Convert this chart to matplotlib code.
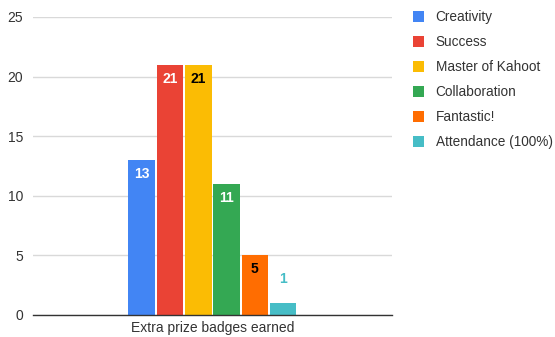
import matplotlib
matplotlib.use("Agg")
import matplotlib.pyplot as plt
from matplotlib.patches import Patch

# DATA
categories = ["Creativity", "Success", "Master of Kahoot", "Collaboration", "Fantastic!", "Attendance (100%)"]
values = [13, 21, 21, 11, 5, 1]
colors = ["#4285F4", "#EA4335", "#FBBC04", "#34A853", "#FF6D01", "#46BDC6"]
label_colors = ["white", "white", "black", "white", "black", "#46BDC6"]
group_label = "Extra prize badges earned"
yticks = [0, 5, 10, 15, 20, 25]

plt.rcParams['font.family'] = ['Liberation Sans', 'DejaVu Sans']

fig = plt.figure(figsize=(5.55, 3.37), dpi=100)
ax = fig.add_axes([0.0595, 0.0653, 0.6465, 0.8843])

n = len(values)
for i, (cat, v, c, lc) in enumerate(zip(categories, values, colors, label_colors)):
    x = i - (n - 1) / 2
    ax.bar(x, v, width=0.94, color=c, zorder=3, label=cat)
    # labels sit inside the bar unless the bar is too short
    off = -10 if v >= 3 else 17
    ax.annotate(str(v), (x, v), xytext=(0, off), textcoords="offset points",
                ha="center", va="center", color=lc, fontsize=10, fontweight="bold", zorder=4)

ax.set_xlim(-6.34, 6.34)
ax.set_ylim(0, 25)
ax.set_yticks(yticks)
ax.set_xticks([0])
ax.set_xticklabels([group_label])
ax.tick_params(axis="both", length=0, labelsize=10, labelcolor="#333333")
ax.tick_params(axis="y", pad=7)
ax.tick_params(axis="x", pad=4)
ax.grid(axis="y", color="#d9d9d9", linewidth=1, zorder=0)
for s in ["top", "right", "left"]:
    ax.spines[s].set_visible(False)
ax.spines["bottom"].set_color("#333333")
ax.spines["bottom"].set_linewidth(1)
ax.spines["bottom"].set_zorder(5)

handles = [Patch(facecolor=c, edgecolor="none") for c in colors]
fig.legend(handles, categories, loc="upper left", bbox_to_anchor=(0.722, 1.006),
           frameon=False, fontsize=9.8, handlelength=0.82, handleheight=0.82,
           handletextpad=0.85, labelspacing=0.81, labelcolor="#333333")

fig.savefig("out.png", dpi=100)
